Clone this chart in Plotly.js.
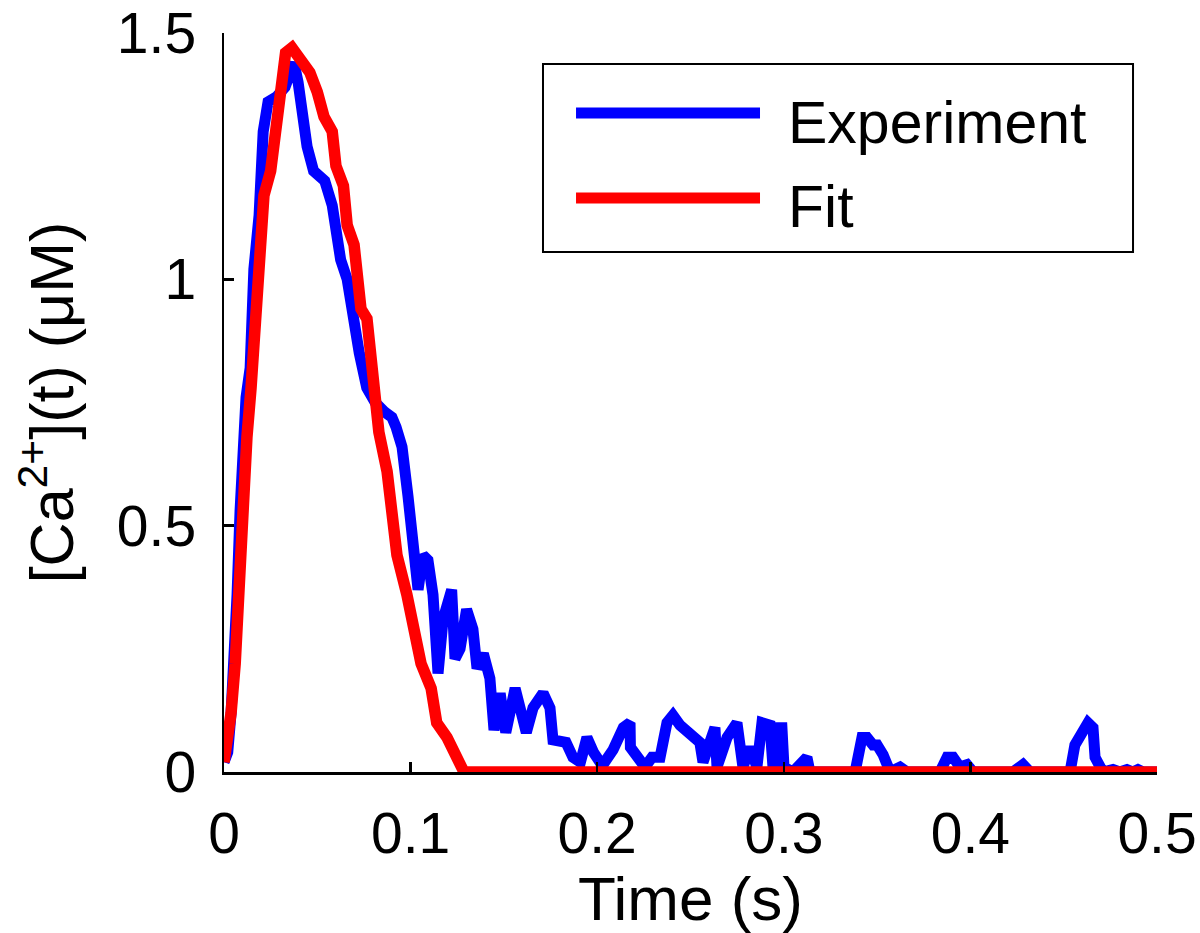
<!DOCTYPE html>
<html>
<head>
<meta charset="utf-8">
<script src="https://cdn.plot.ly/plotly-3.0.1.min.js"></script>
<style>html,body{margin:0;padding:0;background:#fff;}#chart{width:1200px;height:933px;}</style>
</head>
<body>
<div id="chart"></div>
<script>
// Experiment (measured) trace
const expTime = [0,0.002,0.0038,0.0054,0.007,0.0086,0.010,0.0118,0.014,0.016,0.0188,0.021,0.0236,0.028,0.0327,0.036,0.0375,0.0397,0.0423,0.0445,0.048,0.054,0.058,0.060,0.0625,0.066,0.069,0.0725,0.0765,0.081,0.0863,0.090,0.0922,
0.0954,0.0986,0.1018,0.104,0.1066,0.1093,0.112,0.1147,0.1174,0.122,0.1238,0.1265,0.130,0.1334,0.1356,0.139,0.1425,0.1447,0.148,0.151,0.156,0.162,0.1656,0.171,0.1747,0.1763,0.1833,0.187,0.191,0.1945,0.198,0.2015,
0.204,0.2085,0.214,0.2176,0.2178,0.2219,0.2256,0.2294,0.2337,0.2374,0.2406,0.2444,0.2513,0.255,0.2567,0.2604,0.2631,0.2642,0.2696,0.2749,0.2765,0.2781,0.2819,0.2856,0.2883,0.2926,0.2942,0.2969,0.299,0.3001,
0.3049,0.3087,0.3124,0.314,0.3382,0.3419,0.3446,0.3478,0.35,0.3532,0.357,0.3623,0.366,0.3837,0.3875,0.3907,0.3944,0.3982,0.4014,0.4228,0.4282,0.432,0.4534,0.456,0.4587,0.463,0.4657,0.4668,0.471,0.4764,0.48,0.4839,0.4871,0.4898,0.4925,0.5];
const expConc = [0.02,0.04,0.12,0.22,0.36,0.53,0.65,0.76,0.82,1.02,1.13,1.30,1.36,1.37,1.39,1.42,1.44,1.40,1.32,1.27,1.22,1.20,1.15,1.09,1.04,1.00,0.92,0.85,0.78,0.75,0.73,0.72,0.70,
0.66,0.56,0.47,0.37,0.44,0.43,0.36,0.20,0.31,0.37,0.23,0.25,0.33,0.29,0.21,0.24,0.19,0.085,0.16,0.08,0.17,0.08,0.13,0.16,0.13,0.065,0.06,0.03,0.02,0.07,0.04,0.02,
0.02,0.045,0.09,0.10,0.05,0.03,0.01,0.03,0.03,0.10,0.115,0.095,0.075,0.06,0.02,0.06,0.09,0.01,0.07,0.10,0.055,0.01,0.05,0.01,0.10,0.095,0.01,0.09,0.09,0.01,
0.0,0.02,0.03,0.0,0.0,0.07,0.07,0.055,0.055,0.035,0.0,0.01,0.0,0.0,0.03,0.03,0.01,0.015,0.0,0.0,0.015,0.0,0.0,0.055,0.075,0.10,0.09,0.03,0.0,0.005,0.0,0.005,0.0,0.005,0.0,0.0];

// Fit trace
const fitTime = [0,0.0021,0.0038,0.006,0.0075,0.010,0.0123,0.0145,0.016,0.018,0.0214,0.025,0.028,0.031,0.033,0.0364,0.0407,0.046,0.050,0.0536,0.058,0.060,0.064,0.066,0.0697,0.0713,0.0734,0.0766,0.0788,0.0804,0.083,0.0874,0.090,0.0927,0.098,0.1018,0.1056,0.111,0.114,0.1195,0.125,0.1286,0.5];
const fitConc = [0.02,0.07,0.12,0.22,0.36,0.53,0.68,0.78,0.87,1.05,1.17,1.22,1.32,1.41,1.46,1.47,1.45,1.42,1.38,1.33,1.30,1.23,1.19,1.11,1.07,1.01,0.94,0.92,0.85,0.78,0.69,0.61,0.53,0.44,0.36,0.29,0.22,0.17,0.10,0.07,0.03,0.0,0.0];

const seriesNames = ['Experiment', 'Fit'];
const xTickVals = [0, 0.1, 0.2, 0.3, 0.4, 0.5];
const xTickText = ['0', '0.1', '0.2', '0.3', '0.4', '0.5'];
const yTickVals = [0, 0.5, 1, 1.5];
const yTickText = ['0', '0.5', '1', '1.5'];

const FONT = 'Liberation Sans, Arial, Helvetica, sans-serif';

const traces = [
  {x: expTime, y: expConc, mode: 'lines', name: seriesNames[0], cliponaxis: false,
   line: {color: '#0000ff', width: 11, shape: 'linear'}, showlegend: false},
  {x: fitTime, y: fitConc, mode: 'lines', name: seriesNames[1], cliponaxis: false,
   line: {color: '#ff0000', width: 11.5, shape: 'linear'}, showlegend: false}
];

// custom legend (box, line samples and labels) in paper coordinates
const lg = {x0: 0.3419, x1: 0.9743, y0: 0.7037, y1: 0.958, lx0: 0.3773, lx1: 0.5745, tx: 0.6024,
            rows: [{ly: 0.8917, ty: 0.878, color: '#0000ff'}, {ly: 0.7767, ty: 0.764, color: '#ff0000'}]};

const shapes = [
  {type: 'rect', xref: 'paper', yref: 'paper', x0: lg.x0, x1: lg.x1, y0: lg.y0, y1: lg.y1,
   line: {color: '#000', width: 2}, fillcolor: '#fff', layer: 'above'}
];
const annotations = [];
lg.rows.forEach((r, i) => {
  shapes.push({type: 'line', xref: 'paper', yref: 'paper', x0: lg.lx0, x1: lg.lx1, y0: r.ly, y1: r.ly,
               line: {color: r.color, width: 11}, layer: 'above'});
  annotations.push({xref: 'paper', yref: 'paper', x: lg.tx, y: r.ty, xanchor: 'left', yanchor: 'middle',
                    text: seriesNames[i], showarrow: false, font: {family: FONT, size: 59, color: '#000'}});
});

const layout = {
  width: 1200, height: 933,
  margin: {l: 224, r: 43, t: 33, b: 161},
  paper_bgcolor: '#fff', plot_bgcolor: '#fff',
  font: {family: FONT, color: '#000'},
  showlegend: false,
  xaxis: {
    range: [0, 0.5], tickvals: xTickVals, ticktext: xTickText,
    showline: true, linecolor: '#000', linewidth: 2.5, mirror: false,
    ticks: 'inside', ticklen: 10, tickwidth: 2.5, tickcolor: '#000',
    showgrid: false, zeroline: false,
    tickfont: {family: FONT, size: 57, color: '#000'},
    ticklabelstandoff: 10,
    title: {text: 'Time (s)', font: {family: FONT, size: 62, color: '#000'}, standoff: 18}
  },
  yaxis: {
    range: [0, 1.5], tickvals: yTickVals, ticktext: yTickText,
    showline: true, linecolor: '#000', linewidth: 2.5, mirror: false,
    ticks: 'inside', ticklen: 10, tickwidth: 2.5, tickcolor: '#000',
    showgrid: false, zeroline: false,
    tickfont: {family: FONT, size: 57, color: '#000'},
    ticklabelstandoff: 14,
    title: {text: '[Ca<sup>2+</sup>](t) (μM)', font: {family: FONT, size: 61, color: '#000'}, standoff: 24}
  },
  shapes: shapes,
  annotations: annotations
};

Plotly.newPlot('chart', traces, layout, {displayModeBar: false, staticPlot: true});
</script>
</body>
</html>
